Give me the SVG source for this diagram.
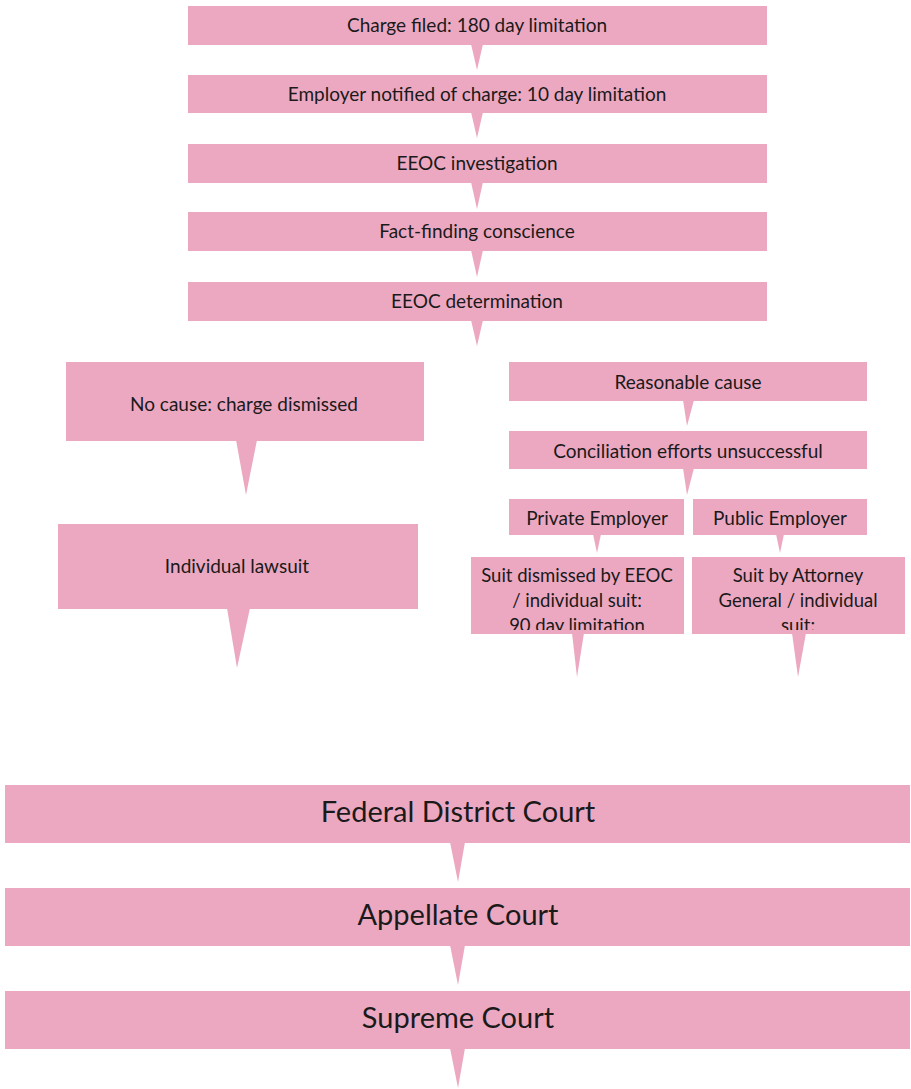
<svg xmlns="http://www.w3.org/2000/svg" width="911" height="1089" viewBox="0 0 911 1089">
<defs>
<style>
.box{fill:#EDA8C1;}
.ptr{fill:#EDA8C1;}
text{font-family:Lato,"Liberation Sans",sans-serif;fill:#1a1a1a;text-anchor:middle;}
.s{font-size:19px;}
.m{font-size:18.5px;}
.l{font-size:29px;}
</style>
<clipPath id="clipA"><rect x="471" y="557" width="213" height="73"/></clipPath>
<clipPath id="clipB"><rect x="692" y="557" width="213" height="73"/></clipPath>
</defs>
<rect width="911" height="1089" fill="#ffffff"/>
<g id="connectors">
<polygon class="ptr" points="471,44 483,44 477,70"/>
<polygon class="ptr" points="471,112 483,112 477,138"/>
<polygon class="ptr" points="471,182 483,182 477,209"/>
<polygon class="ptr" points="471,250 483,250 477,277"/>
<polygon class="ptr" points="471,320 483,320 477,346"/>
<polygon class="ptr" points="236,440 257,440 246,495"/>
<polygon class="ptr" points="227,608 250,608 237,668"/>
<polygon class="ptr" points="683,400 694,400 687,426"/>
<polygon class="ptr" points="683,468 694,468 687,495"/>
<polygon class="ptr" points="593,534 601,534 597,553"/>
<polygon class="ptr" points="776,534 784,534 780,553"/>
<polygon class="ptr" points="572,633 584,633 577,677"/>
<polygon class="ptr" points="792,633 806,633 798,677"/>
<polygon class="ptr" points="450,842 465,842 458,882"/>
<polygon class="ptr" points="450,945 465,945 458,985"/>
<polygon class="ptr" points="450,1048 465,1048 458,1088"/>
</g>
<g id="charge-filed"><rect class="box" x="188" y="6" width="579" height="39"/><text class="s" x="477" y="32">Charge filed: 180 day limitation</text></g>
<g id="employer-notified"><rect class="box" x="188" y="75" width="579" height="38"/><text class="s" x="477" y="101">Employer notified of charge: 10 day limitation</text></g>
<g id="eeoc-investigation"><rect class="box" x="188" y="144" width="579" height="39"/><text class="s" x="477" y="170">EEOC investigation</text></g>
<g id="fact-finding"><rect class="box" x="188" y="212" width="579" height="39"/><text class="s" x="477" y="238">Fact-finding conscience</text></g>
<g id="eeoc-determination"><rect class="box" x="188" y="282" width="579" height="39"/><text class="s" x="477" y="308">EEOC determination</text></g>
<g id="no-cause"><rect class="box" x="66" y="362" width="358" height="79"/><text class="s" x="244" y="411">No cause: charge dismissed</text></g>
<g id="individual-lawsuit"><rect class="box" x="58" y="524" width="360" height="85"/><text class="s" x="237" y="573">Individual lawsuit</text></g>
<g id="reasonable-cause"><rect class="box" x="509" y="362" width="358" height="39"/><text class="s" x="688" y="389">Reasonable cause</text></g>
<g id="conciliation"><rect class="box" x="509" y="431" width="358" height="38"/><text class="s" x="688" y="458">Conciliation efforts unsuccessful</text></g>
<g id="private-employer"><rect class="box" x="509" y="499" width="175" height="36"/><text class="s" x="597" y="525">Private Employer</text></g>
<g id="public-employer"><rect class="box" x="693" y="499" width="174" height="36"/><text class="s" x="780" y="525">Public Employer</text></g>
<g id="suit-dismissed"><rect class="box" x="471" y="557" width="213" height="77"/>
<g clip-path="url(#clipA)"><text class="m" x="577" y="582">Suit dismissed by EEOC</text><text class="m" x="577" y="607">/ individual suit:</text><text class="m" x="577" y="632">90 day limitation</text></g></g>
<g id="suit-attorney"><rect class="box" x="692" y="557" width="213" height="77"/>
<g clip-path="url(#clipB)"><text class="m" x="798" y="582">Suit by Attorney</text><text class="m" x="798" y="607">General / individual</text><text class="m" x="798" y="632">suit:</text></g></g>
<g id="federal-district-court"><rect class="box" x="5" y="785" width="905" height="58"/><text class="l" x="458" y="822">Federal District Court</text></g>
<g id="appellate-court"><rect class="box" x="5" y="888" width="905" height="58"/><text class="l" x="458" y="925">Appellate Court</text></g>
<g id="supreme-court"><rect class="box" x="5" y="991" width="905" height="58"/><text class="l" x="458" y="1028">Supreme Court</text></g>
</svg>
